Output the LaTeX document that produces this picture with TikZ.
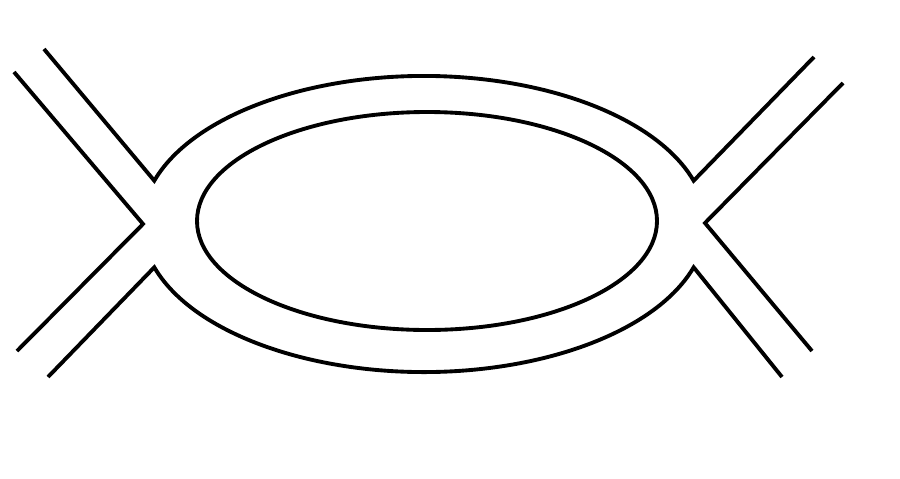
\documentclass[tikz,border=0pt]{standalone}
\usepackage{amsmath, amssymb}
\usepackage{tikz}

\begin{document}
\begin{tikzpicture}[x=0.01cm, y=0.01cm, line width=1.1pt]
\useasboundingbox (0,0) rectangle (900,478);
\coordinate (ulend) at (44,429);
\coordinate (ultop) at (154.3,297.3);
\coordinate (urend) at (814,421);
\coordinate (llend) at (48,101);
\coordinate (llbot) at (154.3,210.7);
\coordinate (lrend) at (782,101);
\coordinate (lvert) at (143,254);
\coordinate (rvert) at (705,255);
\draw (ulend)--(ultop) arc[start angle=163, end angle=17, x radius=282, y radius=148]--(urend);
\draw (llend)--(llbot) arc[start angle=197, end angle=343, x radius=282, y radius=148]--(lrend);
\draw (14,406)--(lvert)--(17,127);
\draw (843,395)--(rvert)--(812,127);
\draw (427,257) ellipse[x radius=230, y radius=109];
\end{tikzpicture}
\end{document}
